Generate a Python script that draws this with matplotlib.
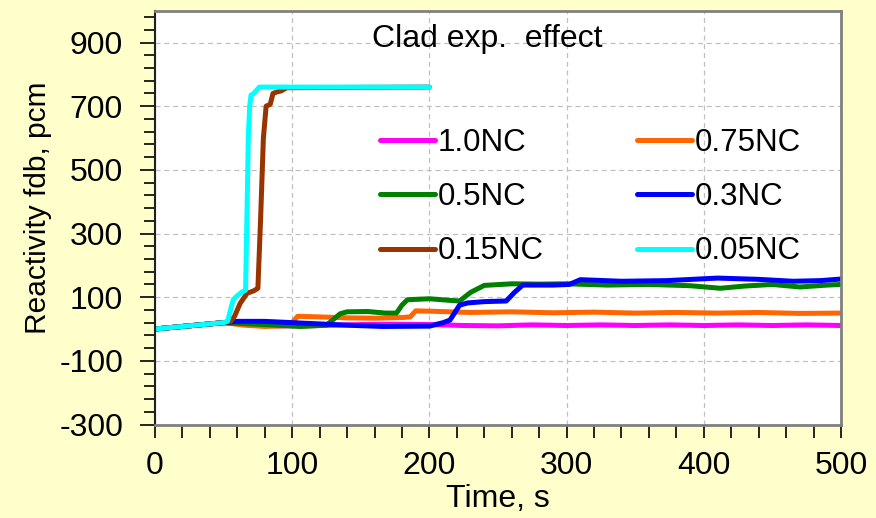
import matplotlib.pyplot as plt
from matplotlib.ticker import MultipleLocator, AutoMinorLocator

plt.rcParams['font.family'] = ['Liberation Sans', 'DejaVu Sans']
plt.rcParams['axes.unicode_minus'] = False

# Reactivity feedback (pcm) vs time (s) for each natural-circulation level
t_10 = [0, 50, 70, 90, 110, 130, 150, 175, 200, 225, 250, 275, 300, 325, 350,
        375, 400, 425, 450, 475, 500]
r_10 = [0, 20, 14, 10, 10, 12, 14, 15, 14, 11, 10, 13, 11, 13, 11, 13, 11, 13,
        11, 13, 11]

t_075 = [0, 50, 65, 80, 95, 100, 104, 120, 140, 160, 180, 186, 190, 200, 230,
         260, 290, 320, 350, 380, 410, 440, 470, 500]
r_075 = [0, 20, 12, 8, 10, 20, 40, 38, 35, 34, 36, 38, 57, 56, 52, 54, 51, 53,
         50, 52, 50, 52, 49, 50]

t_05 = [0, 50, 60, 80, 106, 125, 130, 135, 140, 155, 168, 176, 180, 184, 200,
        215, 222, 230, 240, 260, 280, 300, 330, 360, 390, 412, 430, 450, 470,
        490, 500]
r_05 = [0, 20, 18, 14, 8, 12, 30, 48, 54, 55, 50, 50, 75, 92, 95, 90, 88, 115,
        137, 142, 141, 142, 138, 140, 136, 128, 135, 140, 132, 138, 140]

t_03 = [0, 50, 60, 80, 100, 140, 166, 200, 210, 215, 222, 228, 240, 256, 262,
        268, 290, 302, 310, 340, 373, 410, 440, 465, 485, 500]
r_03 = [0, 20, 24, 24, 20, 12, 8, 9, 20, 28, 75, 82, 86, 88, 115, 138, 138,
        140, 155, 150, 152, 160, 156, 150, 152, 157]

t_015 = [0, 50, 55, 58, 62, 67, 72, 75, 77, 79, 81, 84, 86, 89, 92, 96, 200]
r_015 = [0, 20, 23, 40, 80, 112, 120, 128, 350, 600, 700, 706, 740, 745, 748,
         758, 760]

t_005 = [0, 50, 53, 55, 57, 60, 63, 66, 67, 68, 69, 70, 72, 74, 76, 200]
r_005 = [0, 20, 25, 60, 92, 105, 115, 122, 350, 600, 700, 735, 740, 750, 760,
         760]

labels = ['1.0NC', '0.75NC', '0.5NC', '0.3NC', '0.15NC', '0.05NC']
colors = ['#FF00FF', '#FF6600', '#008000', '#0000FF', '#993300', '#00FFFF']
series = [(t_10, r_10), (t_075, r_075), (t_05, r_05), (t_03, r_03),
          (t_015, r_015), (t_005, r_005)]

fig = plt.figure(figsize=(8.76, 5.18), dpi=100, facecolor='#FFFFCC')
ax = fig.add_axes([155 / 876, 1 - 424.5 / 518, 686 / 876, 413.8 / 518])
ax.set_facecolor('white')

handles = []
for (t, r), lab, c in zip(series, labels, colors):
    h, = ax.plot(t, r, color=c, lw=3.6, label=lab, solid_capstyle='round')
    handles.append(h)

ax.set_xlim(0, 500)
ax.set_ylim(-300, 1000)
ax.xaxis.set_major_locator(MultipleLocator(100))
ax.xaxis.set_minor_locator(MultipleLocator(20))
ax.set_yticks([-300, -100, 100, 300, 500, 700, 900])
ax.yaxis.set_minor_locator(AutoMinorLocator(5))

ax.grid(True, which='major', color='#c0c0c0', linestyle=(0, (4, 3)), lw=0.9)
ax.set_axisbelow(True)

ax.tick_params(axis='y', which='major', direction='out', length=11, width=1.2,
               labelsize=23, pad=12)
ax.tick_params(axis='y', which='minor', direction='out', length=8, width=1.2)
ax.tick_params(axis='x', which='both', direction='out', length=9, width=1.2,
               labelsize=23, pad=10)

ax.spines['left'].set_color('#202020')
ax.spines['left'].set_linewidth(1.5)
for side in ['top', 'right', 'bottom']:
    ax.spines[side].set_color('#808080')
    ax.spines[side].set_linewidth(2)

ax.set_xlabel('Time, s', fontsize=23)
ax.xaxis.set_label_coords(0.5, -0.143)
ax.set_ylabel('Reactivity fdb, pcm', fontsize=21.5)
ax.yaxis.set_label_coords(-0.150, 0.523)

ax.text(0.484, 0.932, 'Clad exp.  effect', transform=ax.transAxes,
        fontsize=23, ha='center', va='center')

# two-column legend filled row by row
order = [0, 2, 4, 1, 3, 5]
ax.legend([handles[i] for i in order], [labels[i] for i in order], ncol=2,
          loc='upper left', bbox_to_anchor=(0.305, 0.755), frameon=False,
          fontsize=22.5, handlelength=1.75, handletextpad=0.1,
          columnspacing=3.0, labelspacing=0.78, borderpad=0)

fig.savefig('out.png', dpi=100, facecolor=fig.get_facecolor())
